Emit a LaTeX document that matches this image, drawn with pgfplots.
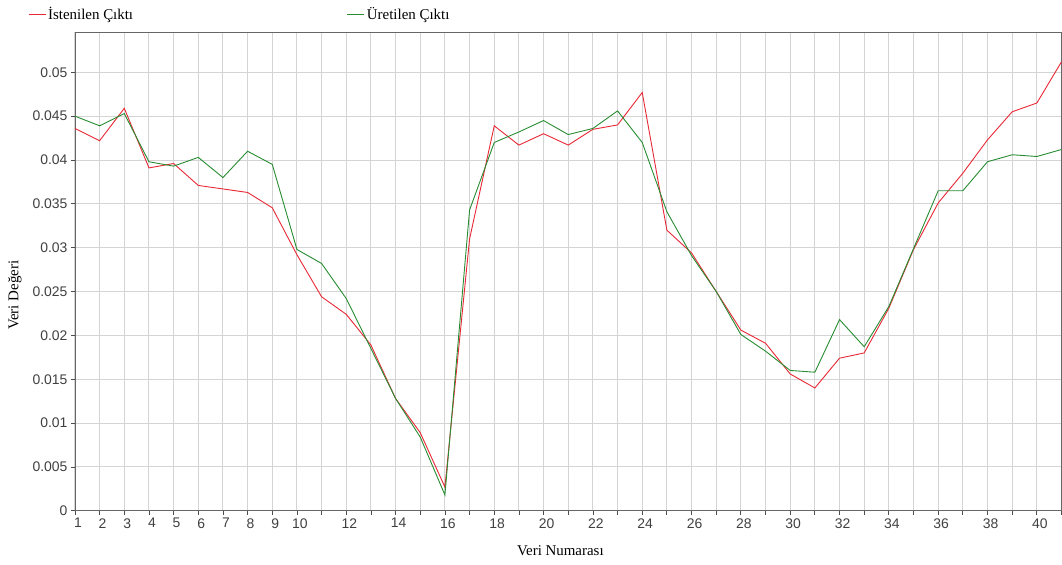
\documentclass[border=0pt]{standalone}
\usepackage{fontspec}
\setmainfont{Liberation Serif}
\newfontfamily\sansf{Liberation Sans}
\usepackage{pgfplots}
\pgfplotsset{compat=1.18}
\definecolor{redl}{RGB}{232,40,52}
\definecolor{greenl}{RGB}{40,140,50}
\begin{document}
\begin{tikzpicture}
\begin{axis}[
 scale only axis, width=987bp, height=479bp,
 xmin=1, xmax=41, ymin=0, ymax=0.0546,
 scaled y ticks=false, scaled x ticks=false,
 xtick={1,...,41},
 xticklabels={1,2,3,4,5,6,7,8,9,10,,12,,14,,16,,18,,20,,22,,24,,26,,28,,30,,32,,34,,36,,38,,40,},
 ytick={0,0.005,0.01,0.015,0.02,0.025,0.03,0.035,0.04,0.045,0.05},
 yticklabels={0,0.005,0.01,0.015,0.02,0.025,0.03,0.035,0.04,0.045,0.05},
 ticklabel style={font=\sansf\fontsize{14}{16}\selectfont, text=black!75},
 xticklabel style={xshift=3bp},
 xtick pos=bottom, ytick pos=left, tick align=outside,
 major tick length=4bp,
 tick style={black!70, line width=0.8bp},
 grid=major,
 major grid style={black!17, line width=1bp},
 axis line style={black!60, line width=0.9bp},
 xlabel={Veri Numarası}, ylabel={Veri Değeri},
 label style={font=\fontsize{15}{18}\selectfont},
 xlabel style={at={(rel axis cs:0.492,-0.0835)}, anchor=center},
 ylabel style={at={(rel axis cs:-0.061,0.45)}, anchor=center, rotate=0},
 legend columns=2,
 legend style={at={(rel axis cs:-0.0476,1.0376)}, anchor=west, draw=none, fill=none,
   font=\fontsize{15}{18}\selectfont, inner sep=0pt,
   /tikz/every even column/.append style={column sep=212bp}},
 legend cell align=left,
]
\addplot[redl, line width=0.9bp] coordinates {
(1,0.0436) (2,0.0422) (3,0.0459) (4,0.0391) (5,0.0396) (6,0.0371) (7,0.0367) (8,0.0363) (9,0.03455) (10,0.0292)
(11,0.0244) (12,0.0224) (13,0.0189) (14,0.0128) (15,0.0089) (16,0.0027) (17,0.0310) (18,0.0439) (19,0.0417) (20,0.0430)
(21,0.0417) (22,0.0435) (23,0.0440) (24,0.0477) (25,0.0320) (26,0.0294) (27,0.0250) (28,0.0206) (29,0.0191) (30,0.0156)
(31,0.0140) (32,0.0174) (33,0.0180) (34,0.0231) (35,0.0298) (36,0.0351) (37,0.0385) (38,0.0423) (39,0.0455) (40,0.0465) (41,0.0512)
};
\addlegendentry{İstenilen Çıktı}
\addplot[greenl, line width=0.9bp] coordinates {
(1,0.0450) (2,0.0439) (3,0.0453) (4,0.0398) (5,0.0393) (6,0.0403) (7,0.0380) (8,0.0410) (9,0.0395) (10,0.0298)
(11,0.0282) (12,0.0242) (13,0.0185) (14,0.0128) (15,0.0084) (16,0.0018) (17,0.0343) (18,0.0420) (19,0.0432) (20,0.0445)
(21,0.0429) (22,0.0436) (23,0.0456) (24,0.0420) (25,0.0341) (26,0.0291) (27,0.0250) (28,0.0201) (29,0.0182) (30,0.0160)
(31,0.0158) (32,0.0218) (33,0.0187) (34,0.0233) (35,0.0299) (36,0.0365) (37,0.0365) (38,0.0398) (39,0.0406) (40,0.0404) (41,0.0412)
};
\addlegendentry{Üretilen Çıktı}
\end{axis}
\pgfresetboundingbox
\path[use as bounding box] (-75bp,-54bp) rectangle (987.5bp,511bp);
\end{tikzpicture}
\end{document}
